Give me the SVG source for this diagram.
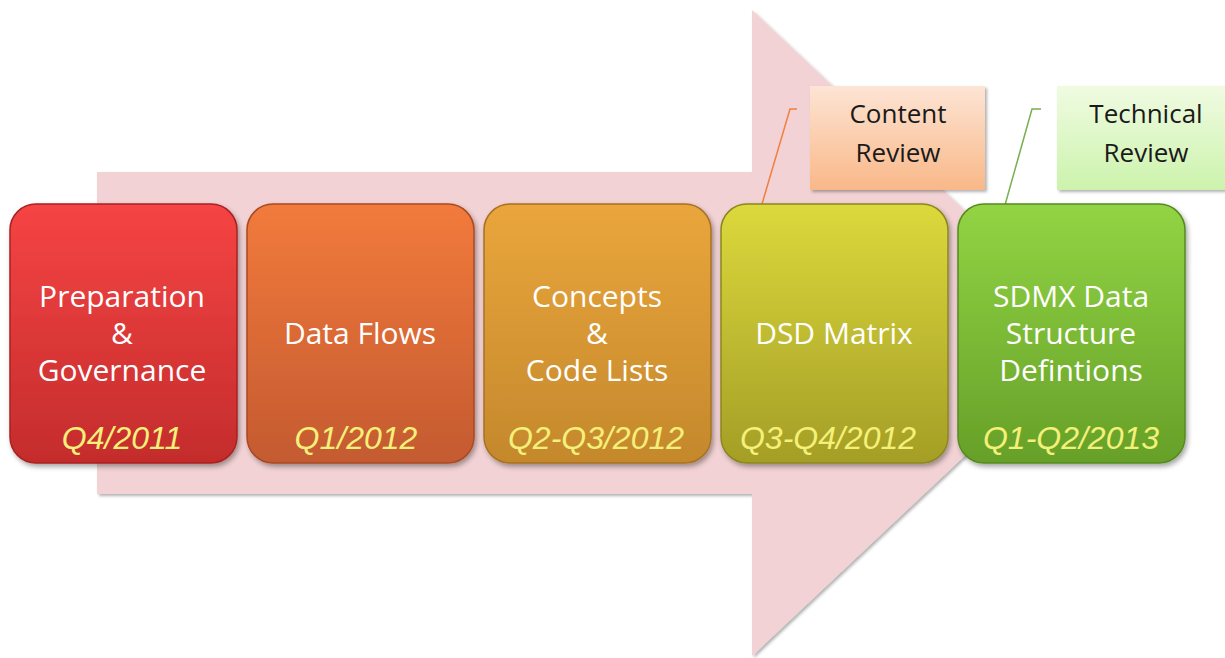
<svg xmlns="http://www.w3.org/2000/svg" width="1225" height="658" viewBox="0 0 1225 658">
<defs>
<style>
.t{font-family:"Open Sans","Liberation Sans",sans-serif;font-size:30px;fill:#ffffff;text-anchor:middle}
.d{font-family:"Liberation Sans",Arial,sans-serif;font-size:32px;font-style:italic;fill:#f4f07a;text-anchor:middle}
.c{font-family:"Open Sans","Liberation Sans",sans-serif;font-size:26px;fill:#1a1a1a;text-anchor:middle}
.box{stroke-width:1.5}
</style>
<filter id="sh" x="-10%" y="-10%" width="125%" height="125%"><feDropShadow dx="2" dy="3" stdDeviation="2.5" flood-color="#000" flood-opacity="0.35"/></filter>
<filter id="sh2" x="-10%" y="-10%" width="125%" height="125%"><feDropShadow dx="2" dy="2" stdDeviation="1.5" flood-color="#000" flood-opacity="0.3"/></filter>
<linearGradient id="g1" x1="0" y1="0" x2="0" y2="1"><stop offset="0" stop-color="#f64444"/><stop offset="1" stop-color="#c42c2c"/></linearGradient>
<linearGradient id="g2" x1="0" y1="0" x2="0" y2="1"><stop offset="0" stop-color="#f27a3c"/><stop offset="1" stop-color="#c45a30"/></linearGradient>
<linearGradient id="g3" x1="0" y1="0" x2="0" y2="1"><stop offset="0" stop-color="#eaa63c"/><stop offset="1" stop-color="#c4882c"/></linearGradient>
<linearGradient id="g4" x1="0" y1="0" x2="0" y2="1"><stop offset="0" stop-color="#dcd93c"/><stop offset="1" stop-color="#a49e26"/></linearGradient>
<linearGradient id="g5" x1="0" y1="0" x2="0" y2="1"><stop offset="0" stop-color="#92d444"/><stop offset="1" stop-color="#66a028"/></linearGradient>
<linearGradient id="gc" x1="0" y1="0" x2="0" y2="1"><stop offset="0" stop-color="#fde4d4"/><stop offset="1" stop-color="#f9b888"/></linearGradient>
<linearGradient id="gt" x1="0" y1="0" x2="0" y2="1"><stop offset="0" stop-color="#f0fbe2"/><stop offset="1" stop-color="#ccf3ac"/></linearGradient>
</defs>
<rect width="1225" height="658" fill="#ffffff"/>
<g id="arrow">
<path d="M97,172 L752,172 L752,10 L1095,333 L752,656 L752,494 L97,494 Z" fill="#f2d2d4" filter="url(#sh2)"/>
</g>
<g id="connectors">
<polyline points="762,204 790,109 797,109" fill="none" stroke="#f08040" stroke-width="1.5"/>
<polyline points="1005,205 1032,109 1041,109" fill="none" stroke="#78b050" stroke-width="1.5"/>
</g>
<g id="n1">
<rect class="box" x="10" y="204" width="227" height="259" rx="26" fill="url(#g1)" stroke="#a82222" filter="url(#sh)"/>
<text class="t" x="122" y="307">Preparation</text>
<text class="t" x="122" y="344">&amp;</text>
<text class="t" x="122" y="381">Governance</text>
<text class="d" x="122" y="449">Q4/2011</text>
</g>
<g id="n2">
<rect class="box" x="247" y="204" width="227" height="259" rx="26" fill="url(#g2)" stroke="#a84a22" filter="url(#sh)"/>
<text class="t" x="360" y="344">Data Flows</text>
<text class="d" x="356" y="449">Q1/2012</text>
</g>
<g id="n3">
<rect class="box" x="484" y="204" width="227" height="259" rx="26" fill="url(#g3)" stroke="#a87222" filter="url(#sh)"/>
<text class="t" x="597" y="307">Concepts</text>
<text class="t" x="597" y="344">&amp;</text>
<text class="t" x="597" y="381">Code Lists</text>
<text class="d" x="596" y="449">Q2-Q3/2012</text>
</g>
<g id="n4">
<rect class="box" x="721" y="204" width="227" height="259" rx="26" fill="url(#g4)" stroke="#8a8620" filter="url(#sh)"/>
<text class="t" x="834" y="344">DSD Matrix</text>
<text class="d" x="828" y="449">Q3-Q4/2012</text>
</g>
<g id="n5">
<rect class="box" x="958" y="204" width="227" height="259" rx="26" fill="url(#g5)" stroke="#568a20" filter="url(#sh)"/>
<text class="t" x="1071" y="307">SDMX Data</text>
<text class="t" x="1071" y="344">Structure</text>
<text class="t" x="1071" y="381">Defintions</text>
<text class="d" x="1071" y="449">Q1-Q2/2013</text>
</g>
<g id="content-review">
<rect x="810" y="86" width="175" height="104" fill="url(#gc)" filter="url(#sh2)"/>
<text class="c" x="898" y="123">Content</text>
<text class="c" x="898" y="162">Review</text>
</g>
<g id="technical-review">
<rect x="1057" y="86" width="170" height="104" fill="url(#gt)" filter="url(#sh2)"/>
<text class="c" x="1146" y="123">Technical</text>
<text class="c" x="1146" y="162">Review</text>
</g>
</svg>
